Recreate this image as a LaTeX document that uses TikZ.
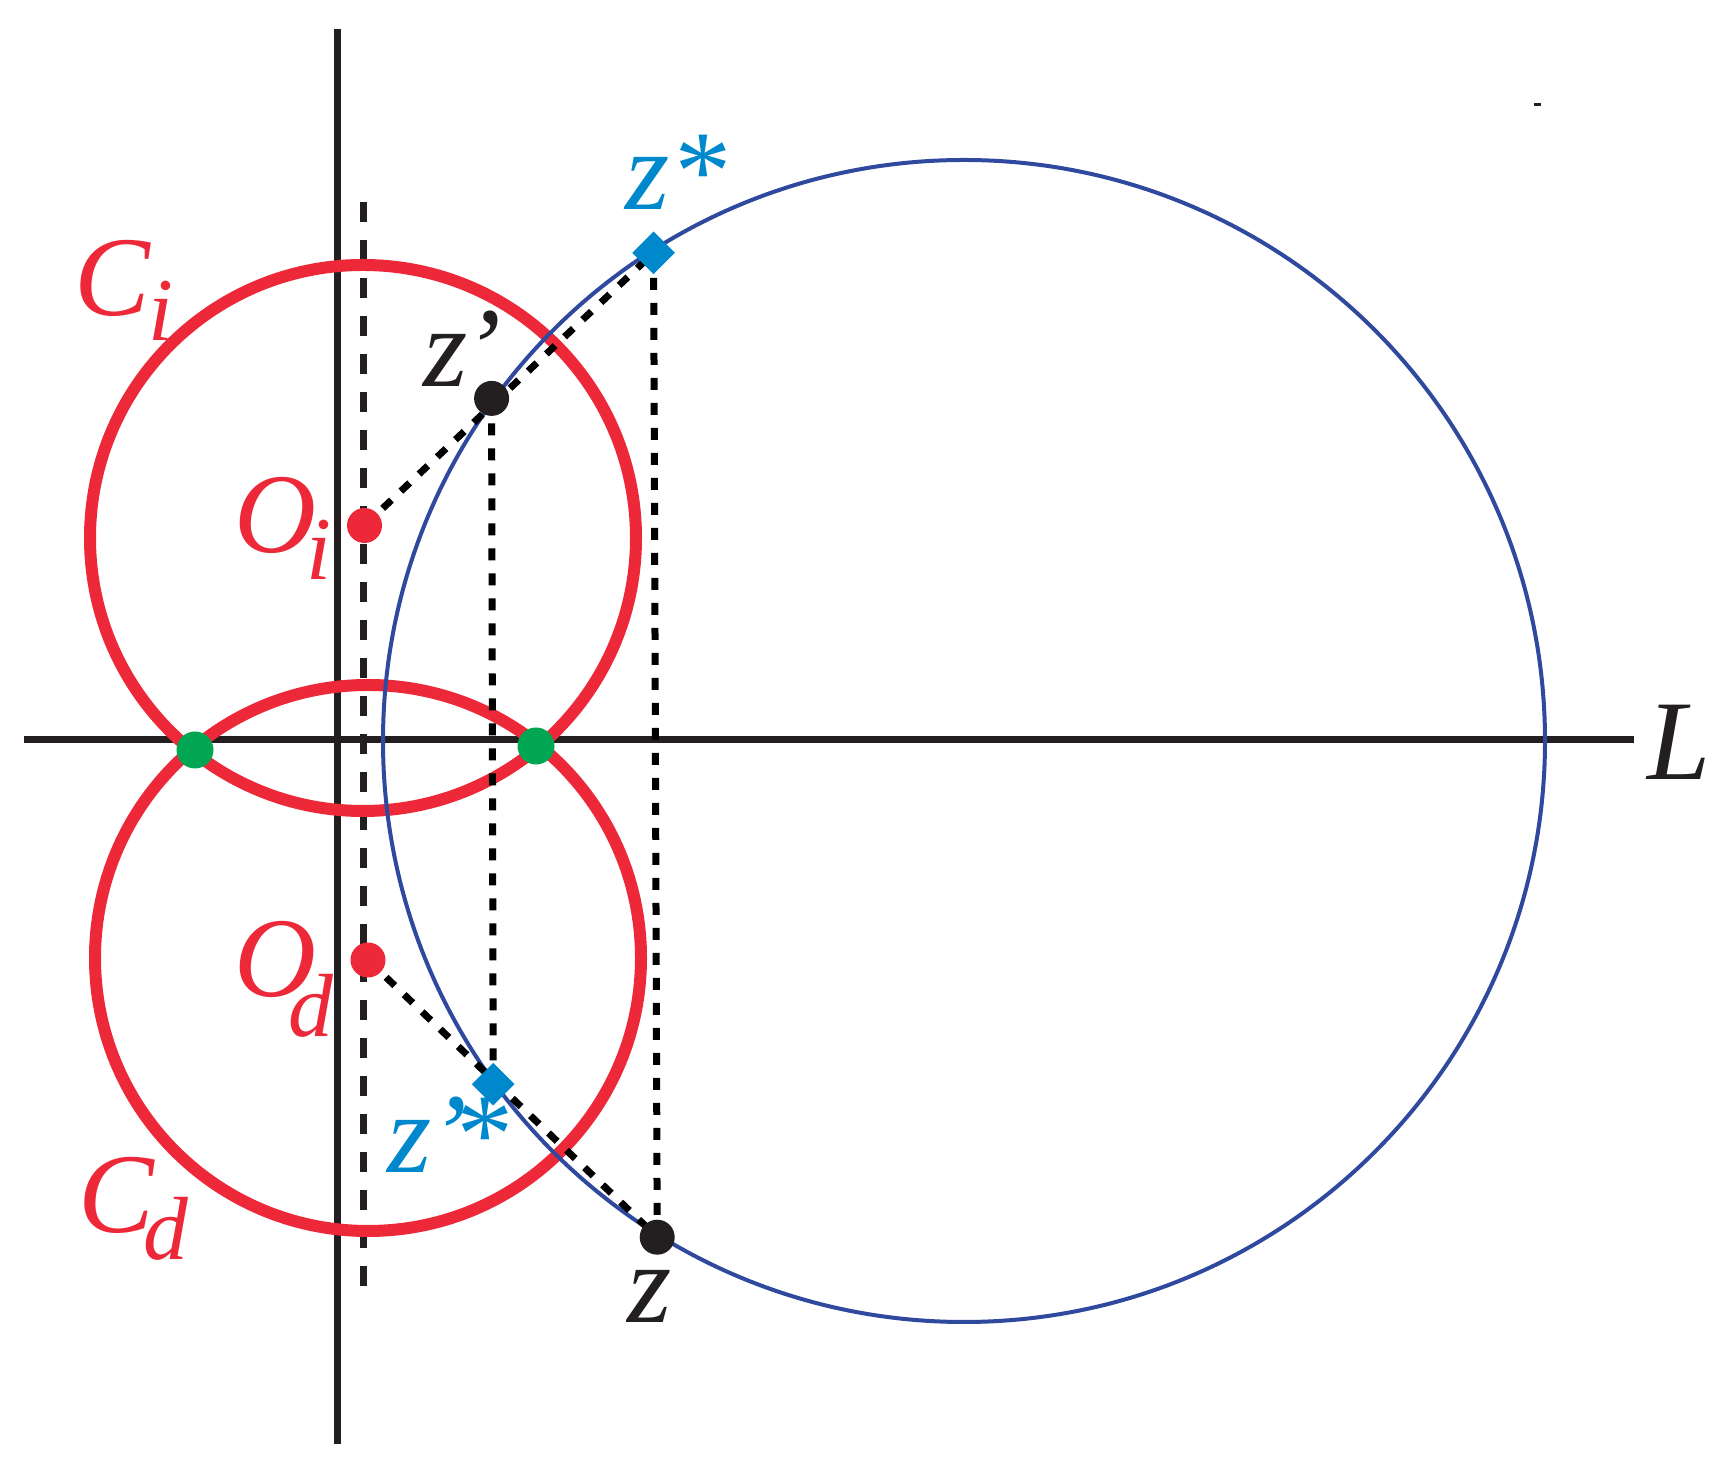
\documentclass[tikz,border=0pt]{standalone}
\usepackage{fontspec}
\setmainfont{Liberation Serif}
\usetikzlibrary{shapes.geometric}
\definecolor{cred}{RGB}{237,41,57}
\definecolor{cblue}{RGB}{46,73,157}
\definecolor{clight}{RGB}{0,136,204}
\definecolor{cgreen}{RGB}{0,166,81}
\definecolor{cblack}{RGB}{35,31,32}
% letter, subscript, kern before subscript, drop of subscript
\newcommand{\sublbl}[4]{\textit{#1}\kern#3\raisebox{#4}{\fontsize{45}{48}\selectfont\textit{#2}}}
\begin{document}
\begin{tikzpicture}[>=latex,line join=bevel,
  axisline/.style={cblack,line width=3.5bp},
  redcircle/.style={cred,line width=6bp},
  longdash/.style={cblack,line width=3.5bp,dash pattern=on 10bp off 9bp},
  shortdash/.style={black,line width=3.5bp,dash pattern=on 6bp off 6.5bp},
  dotnode/.style={circle,fill,inner sep=0pt,minimum size=17.5bp},
  diamondnode/.style={diamond,fill=clight,inner sep=0pt,minimum size=21.5bp},
  lbl/.style={anchor=base west,inner sep=0pt,font=\fontsize{57}{60}\selectfont},
]
\useasboundingbox (0bp,0bp) rectangle (867.5bp,734bp);
%%
\coordinate (node_Oi) at (182.25bp,471.25bp);
  \coordinate (node_Od) at (184.0bp,254.0bp);
  \coordinate (node_zp) at (245.8bp,534.8bp);
  \coordinate (node_zs) at (326.8bp,607.6bp);
  \coordinate (node_zps) at (246.6bp,191.9bp);
  \coordinate (node_z) at (328.6bp,115.4bp);
  \coordinate (node_Cb) at (482.0bp,363.5bp);
%
\draw [axisline] (168.5bp,719.5bp) -- (168.5bp,12.0bp);
  \draw [axisline] (12.0bp,364.0bp) -- (817.0bp,364.0bp);
  \draw [cblack,line width=1.5bp] (767.0bp,681.5bp) -- (770.5bp,681.5bp);
  \draw [longdash] (181.5bp,633.0bp) -- (181.5bp,89.5bp);
  \draw [redcircle] (181.5bp,465.0bp) circle (136.5bp);
  \draw [redcircle] (184.0bp,255.0bp) circle (136.5bp);
  \draw [cblue,line width=2bp] (node_Cb) circle (290.5bp);
%
\draw [shortdash] (node_zp) -- (node_zps);
  \draw [shortdash] (node_zs) -- (node_z);
  \draw [shortdash] (node_Oi) -- (node_zs);
  \draw [shortdash] (node_Od) -- (node_z);
%
\node (node_P1) at (97.5bp,359.0bp) [dotnode,cgreen,minimum size=18.5bp] {};
  \node (node_P2) at (268.0bp,361.0bp) [dotnode,cgreen,minimum size=18.5bp] {};
  \node (dot_Oi) at (node_Oi) [dotnode,cred] {};
  \node (dot_Od) at (node_Od) [dotnode,cred] {};
  \node (dot_zp) at (node_zp) [dotnode,cblack] {};
  \node (dot_z) at (node_z) [dotnode,cblack] {};
  \node (dot_zs) at (node_zs) [diamondnode] {};
  \node (dot_zps) at (node_zps) [diamondnode] {};
%
\node (label_Ci) at (37.0bp,576.0bp) [lbl,cred] {\sublbl{C}{i}{-1.5bp}{-12.5bp}};
  \node (label_Cd) at (39.0bp,117.5bp) [lbl,cred] {\sublbl{C}{d}{-6bp}{-13.5bp}};
  \node (label_Oi) at (117.0bp,457.5bp) [lbl,cred] {\sublbl{O}{i}{-5bp}{-13.5bp}};
  \node (label_Od) at (117.0bp,235.5bp) [lbl,cred] {\sublbl{O}{d}{-14bp}{-20bp}};
  \node (label_zp) at (211.5bp,540.5bp) [lbl,cblack] {\textit{z\kern-2bp’}};
  \node (label_zs) at (312.5bp,629.0bp) [lbl,clight] {\textit{z*}};
  \node (label_zps) at (193.5bp,147.5bp) [lbl,clight] {\textit{z\kern-1bp’\kern-8bp*}};
  \node (label_z) at (313.5bp,72.5bp) [lbl,cblack] {\textit{z}};
  \node (label_L) at (823.5bp,344.0bp) [lbl,cblack] {\textit{L}};
%
\end{tikzpicture}
\end{document}
